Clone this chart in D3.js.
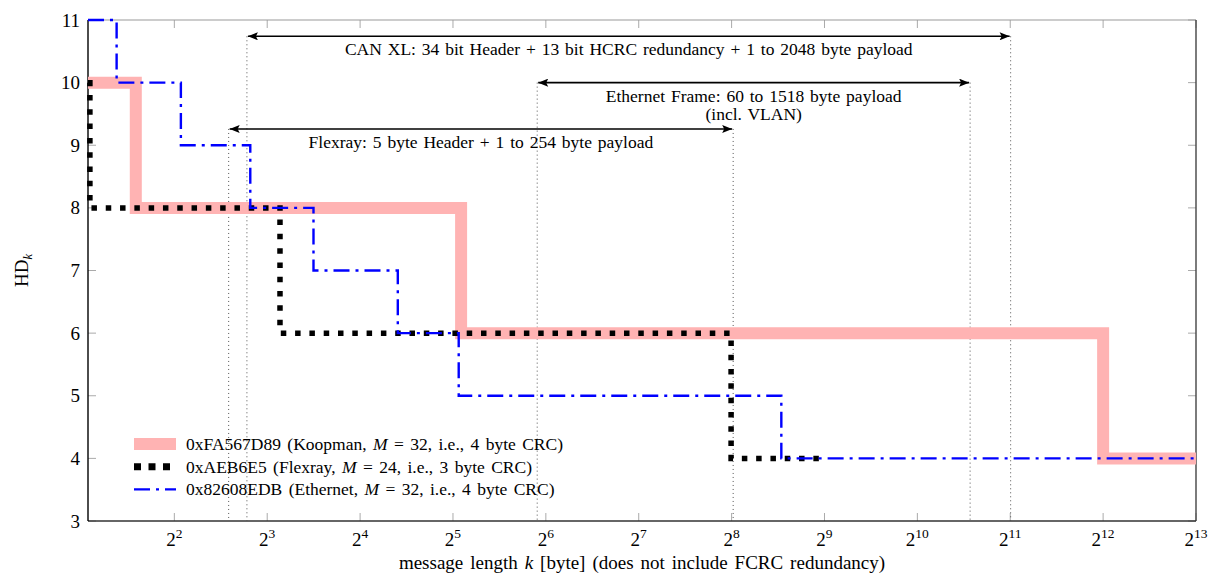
<!DOCTYPE html>
<html>
<head>
<meta charset="utf-8">
<script src="https://cdn.jsdelivr.net/npm/d3@7"></script>
<style>
  body { margin: 0; background: #fff; }
  text { font-family: "Liberation Serif", "DejaVu Serif", serif; fill: #000; }
</style>
</head>
<body>
<div id="chart"></div>
<script>
// step data: message length k [byte] where the HD changes, and HD from there on
const koopmanK = [2.1, 3, 34, 4096, 8192];
const koopmanHD = [10, 8, 6, 4, 4];

const flexrayK = [2.1, 2.13, 8.8, 255, 500];
const flexrayHD = [10, 8, 6, 4, 4];

const ethernetK = [2.1, 2.6, 4.2, 7.05, 11.3, 21.2, 33.4, 371, 8192];
const ethernetHD = [11, 10, 9, 8, 7, 6, 5, 4, 4];

const seriesNames = [
  ["0xFA567D89 (Koopman, ", "M", " = 32, i.e., 4 byte CRC)"],
  ["0xAEB6E5 (Flexray, ", "M", " = 24, i.e., 3 byte CRC)"],
  ["0x82608EDB (Ethernet, ", "M", " = 32, i.e., 4 byte CRC)"]
];

// frame ranges marked with arrows
const spanLabels = [
  ["CAN XL: 34 bit Header + 13 bit HCRC redundancy + 1 to 2048 byte payload"],
  ["Ethernet Frame: 60 to 1518 byte payload", "(incl. VLAN)"],
  ["Flexray: 5 byte Header + 1 to 254 byte payload"]
];
const spanStart = [6.875, 60, 6];
const spanEnd = [2053.875, 1518, 259];
const spanHD = [10.74, 10.0, 9.26];

const xTickExp = [2, 3, 4, 5, 6, 7, 8, 9, 10, 11, 12, 13];
const yTicks = [3, 4, 5, 6, 7, 8, 9, 10, 11];

const W = 1212, H = 574;
const m = {left: 88, right: 16, top: 20, bottom: 53};

const svg = d3.select("#chart").append("svg")
  .attr("width", W).attr("height", H);

const x = d3.scaleLog().base(2).domain([2.1, 8192]).range([m.left, W - m.right]);
const y = d3.scaleLinear().domain([3, 11]).range([H - m.bottom, m.top]);

const x0 = m.left, x1 = W - m.right, y0 = H - m.bottom, y1 = m.top;

// ticks on all four sides, pointing inward
const tickLen = 8;
const ticks = svg.append("g").attr("stroke", "#aaa").attr("stroke-width", 1);
xTickExp.forEach(e => {
  const px = x(Math.pow(2, e));
  ticks.append("line").attr("x1", px).attr("x2", px).attr("y1", y0).attr("y2", y0 - tickLen);
  ticks.append("line").attr("x1", px).attr("x2", px).attr("y1", y1).attr("y2", y1 + tickLen);
});
yTicks.forEach(v => {
  ticks.append("line").attr("x1", x0).attr("x2", x0 + tickLen).attr("y1", y(v)).attr("y2", y(v));
  ticks.append("line").attr("x1", x1).attr("x2", x1 - tickLen).attr("y1", y(v)).attr("y2", y(v));
});

// frame
svg.append("line").attr("x1", x0).attr("x2", x1).attr("y1", y1).attr("y2", y1)
  .attr("stroke", "#999").attr("stroke-width", 1.2);
svg.append("line").attr("x1", x1).attr("x2", x1).attr("y1", y1).attr("y2", y0)
  .attr("stroke", "#444").attr("stroke-width", 1.4);
svg.append("line").attr("x1", x0).attr("x2", x1).attr("y1", y0).attr("y2", y0)
  .attr("stroke", "#333").attr("stroke-width", 1.4);
svg.append("line").attr("x1", x0).attr("x2", x0).attr("y1", y1).attr("y2", y0)
  .attr("stroke", "#000").attr("stroke-width", 1.4);

// tick labels
svg.append("g").selectAll("text").data(yTicks).join("text")
  .attr("x", x0 - 8).attr("y", d => y(d) + 6.5)
  .attr("text-anchor", "end").attr("font-size", 19)
  .text(d => d);

const xl = svg.append("g").selectAll("text").data(xTickExp).join("text")
  .attr("x", d => x(Math.pow(2, d))).attr("y", y0 + 25)
  .attr("text-anchor", "middle").attr("font-size", 19);
xl.append("tspan").text("2");
xl.append("tspan").attr("font-size", 13.5).attr("dy", -8).text(d => d);

// axis titles
const xt = svg.append("text").attr("x", (x0 + x1) / 2).attr("y", 569)
  .attr("text-anchor", "middle").attr("font-size", 19).attr("word-spacing", 2.2);
xt.append("tspan").text("message length ");
xt.append("tspan").attr("font-style", "italic").text("k");
xt.append("tspan").text(" [byte] (does not include FCRC redundancy)");

const yt = svg.append("text").attr("transform", `translate(28,${(y0 + y1) / 2}) rotate(-90)`)
  .attr("text-anchor", "middle").attr("font-size", 19);
yt.append("tspan").text("HD");
yt.append("tspan").attr("font-size", 12.5).attr("font-style", "italic").attr("dy", 4).text("k");

// arrows and dotted guide lines
svg.append("defs").append("marker")
  .attr("id", "ah").attr("viewBox", "0 0 10 8").attr("refX", 10).attr("refY", 4)
  .attr("markerWidth", 11).attr("markerHeight", 8).attr("markerUnits", "userSpaceOnUse")
  .attr("orient", "auto-start-reverse")
  .append("path").attr("d", "M0,0 L10,4 L0,8 L2,4 Z").attr("fill", "#000");

const guides = svg.append("g").attr("stroke", "#555").attr("stroke-width", 1)
  .attr("stroke-dasharray", "1 3");
spanStart.forEach((s, i) => {
  [s, spanEnd[i]].forEach(k => {
    guides.append("line").attr("x1", x(k)).attr("x2", x(k))
      .attr("y1", y(spanHD[i])).attr("y2", y0);
  });
});

spanStart.forEach((s, i) => {
  svg.append("line")
    .attr("x1", x(s) + 1).attr("x2", x(spanEnd[i]) - 1)
    .attr("y1", y(spanHD[i])).attr("y2", y(spanHD[i]))
    .attr("stroke", "#000").attr("stroke-width", 1.6)
    .attr("marker-start", "url(#ah)").attr("marker-end", "url(#ah)");
  const cx = (x(s) + x(spanEnd[i])) / 2;
  spanLabels[i].forEach((line, j) => {
    svg.append("text").attr("x", cx).attr("y", y(spanHD[i]) + 19 + j * 18)
      .attr("text-anchor", "middle").attr("font-size", 17.5)
      .attr("word-spacing", 1.5).text(line);
  });
});

// step series
const step = d3.line().x(d => x(d[0])).y(d => y(d[1])).curve(d3.curveStepAfter);

const styles = [
  {stroke: "#ffb3b3", width: 12, dash: null, cap: "butt"},
  {stroke: "#000", width: 5.5, dash: "5.5 8.8", cap: "butt"},
  {stroke: "#0000ff", width: 2.4, dash: "16 6 3 6", cap: "butt"}
];
const seriesData = [
  d3.zip(koopmanK, koopmanHD),
  d3.zip(flexrayK, flexrayHD),
  d3.zip(ethernetK, ethernetHD)
];

svg.append("g").selectAll("path").data(seriesData).join("path")
  .attr("d", step)
  .attr("fill", "none")
  .attr("stroke", (_, i) => styles[i].stroke)
  .attr("stroke-width", (_, i) => styles[i].width)
  .attr("stroke-dasharray", (_, i) => styles[i].dash)
  .attr("stroke-linecap", (_, i) => styles[i].cap)
  .attr("stroke-linejoin", "miter");

// legend
const leg = svg.append("g").attr("transform", "translate(134,444)");
seriesNames.forEach((name, i) => {
  const row = leg.append("g").attr("transform", `translate(0,${i * 22.7})`);
  row.append("line").attr("x1", 0).attr("x2", 42).attr("y1", 0).attr("y2", 0)
    .attr("stroke", styles[i].stroke)
    .attr("stroke-width", i == 1 ? 7 : styles[i].width)
    .attr("stroke-dasharray", i == 1 ? "7 7.5" : styles[i].dash);
  const t = row.append("text").attr("x", 52).attr("y", 6).attr("font-size", 17.5)
    .attr("word-spacing", 2);
  t.append("tspan").text(name[0]);
  t.append("tspan").attr("font-style", "italic").text(name[1]);
  t.append("tspan").text(name[2]);
});
</script>
</body>
</html>
